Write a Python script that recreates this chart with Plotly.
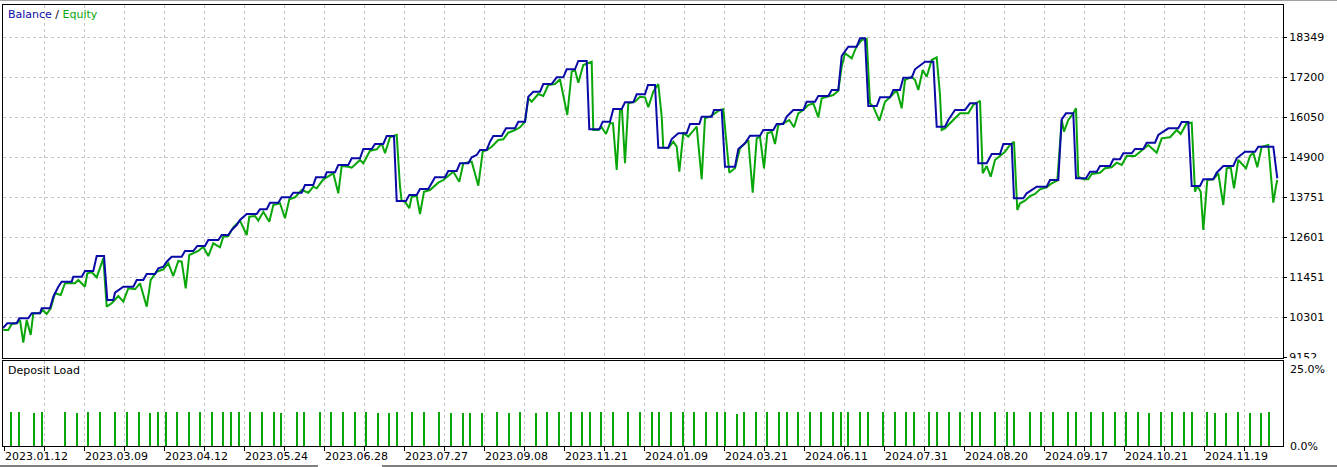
import plotly.graph_objects as go

# ---------------- data ----------------
# balance curve: deal position and balance value
balance_x = [
    3, 7.3, 16.7, 19.3, 28.3, 31.7, 40, 41.7, 50, 53.3,
    58.3, 61.7, 71.7, 73.3, 81.7, 85, 93.3, 96.7, 104, 107.3,
    113.3, 115, 123.3, 133.3, 136.7, 143.3, 146.7, 155, 158.3, 163.3,
    166.7, 171.7, 181.7, 185, 193.3, 197.3, 205, 208.3, 218.3, 221.7,
    228.3, 231.7, 236.7, 240, 246.7, 256.7, 260, 266.7, 270, 278.3,
    281.7, 290, 293.3, 301.7, 305, 313.3, 316, 325, 326.7, 335,
    338.3, 348.3, 351.7, 360, 363.3, 371.7, 375, 383.3, 386.7, 394,
    396.7, 406, 409.3, 416.7, 420, 428.3, 435, 445, 448.3, 456.7,
    460, 468.3, 471.7, 476.7, 480, 486.7, 490, 493.3, 501.7, 506,
    515, 518.3, 525, 528.3, 533.3, 540, 543.3, 551.7, 556.7, 563.3,
    566.7, 575, 578.3, 586.7, 589.3, 599.3, 602.7, 610, 613.3, 621.7,
    625, 633.3, 636.7, 645, 648, 655, 658.3, 668.3, 671.7, 678.3,
    686.7, 690, 699.3, 701.7, 711.7, 714, 721.7, 725, 735, 738.3,
    745, 750, 760, 763.3, 773.3, 776.7, 783.3, 786.7, 793.3, 803.3,
    806.7, 815, 818.3, 828.3, 831.7, 838.3, 841.7, 848.3, 856.7, 860,
    865, 868.3, 876.7, 880, 890, 893.3, 900, 903.3, 911.7, 915,
    925, 933.3, 936.7, 945, 948.3, 955, 965, 970, 976.7, 978.3,
    986.7, 991.7, 1000, 1003.3, 1011.7, 1014, 1023.3, 1026.7, 1036.7, 1046.7,
    1050, 1058.3, 1061.7, 1066, 1073.3, 1076, 1086, 1090, 1096.7, 1100,
    1110, 1113.3, 1120, 1123.3, 1131.7, 1135, 1143.3, 1146.7, 1155, 1158.3,
    1168.3, 1178.3, 1181.7, 1188.3, 1191.7, 1200, 1203.3, 1213.3, 1216.7, 1223.3,
    1233.3, 1236.7, 1245, 1255, 1258.3, 1273.3, 1277.3,
]
balance = [
    10000, 10135, 10135, 10279, 10279, 10422, 10422, 10566, 10566, 10900,
    11187, 11331, 11331, 11474, 11474, 11638, 11638, 12069, 12069, 10805,
    10805, 11014, 11187, 11187, 11379, 11379, 11552, 11552, 11716, 11762,
    11905, 12049, 12049, 12213, 12213, 12357, 12357, 12529, 12529, 12673,
    12673, 12816, 12960, 13104, 13276, 13276, 13411, 13411, 13601, 13601,
    13756, 13756, 13888, 13888, 14110, 14110, 14331, 14331, 14475, 14475,
    14685, 14685, 14877, 14877, 15144, 15144, 15288, 15288, 15518, 15518,
    13650, 13650, 13822, 13822, 13995, 13995, 14331, 14331, 14512, 14512,
    14733, 14733, 14906, 14972, 15116, 15116, 15354, 15518, 15518, 15739,
    15739, 15929, 15929, 16647, 16791, 16791, 17012, 17012, 17205, 17205,
    17435, 17435, 17674, 17674, 15711, 15711, 15929, 15929, 16294, 16294,
    16487, 16487, 16716, 16716, 16984, 16984, 15182, 15182, 15432, 15596,
    15596, 15863, 15863, 16073, 16073, 16265, 16265, 14636, 14636, 15144,
    15308, 15527, 15527, 15690, 15690, 15863, 15863, 16073, 16265, 16265,
    16504, 16504, 16668, 16668, 16840, 16840, 17817, 18084, 18084, 18326,
    18326, 16380, 16380, 16630, 16630, 16840, 16840, 17194, 17194, 17435,
    17653, 17653, 15785, 15785, 15978, 16265, 16265, 16458, 16458, 14733,
    14733, 15001, 15001, 15288, 15288, 13728, 13728, 13871, 14061, 14061,
    14253, 14253, 15998, 16170, 16170, 14302, 14302, 14492, 14492, 14656,
    14656, 14848, 14848, 15021, 15021, 15144, 15144, 15325, 15325, 15547,
    15739, 15739, 15920, 15920, 14081, 14081, 14274, 14274, 14463, 14656,
    14656, 14877, 15067, 15067, 15210, 15210, 14302,
]

# equity curve: deal position and equity value
equity_x = [
    3.3, 8.3, 11.7, 16.7, 20, 23.3, 26.7, 30.7, 33.3, 40,
    42.7, 46.7, 50.7, 55, 60.7, 65, 75, 78.3, 85, 87.3,
    91.7, 96.7, 103.3, 106.7, 111.7, 118.3, 123.3, 128.3, 135, 140,
    146.7, 150.7, 156.7, 163.3, 168.3, 173.3, 178.3, 181.7, 185.7, 189.3,
    198.3, 203.3, 208.3, 213.3, 220, 223.3, 228.3, 233.3, 240, 246.7,
    249.3, 255, 258.3, 263.3, 269.3, 273.3, 280, 285, 289.3, 295,
    301.7, 308.3, 313.3, 316.7, 323.3, 326.7, 333.3, 338.3, 341.7, 348.3,
    351.7, 360, 363.3, 370, 376.7, 381.7, 385, 390, 396.7, 400,
    401.7, 405, 409.3, 411.7, 416.7, 420, 424, 430, 435, 438.3,
    443.3, 448.3, 453.3, 459.3, 463.3, 471.7, 478.3, 482.7, 486.7, 491.7,
    498.3, 503.3, 508.3, 515, 520, 525, 528.3, 531.7, 538.3, 543.3,
    548.3, 555, 560, 567.3, 571.7, 575, 578.3, 583.3, 591.7, 593.3,
    598.3, 601.7, 606, 610, 613, 616.7, 620, 622, 625, 628.3,
    635, 640, 645, 648.3, 653.3, 658.3, 661.7, 663.3, 668.3, 673.3,
    676.7, 679.3, 681.7, 683.3, 688.3, 693.3, 696.7, 701.7, 705, 710,
    715, 720, 723.3, 727.3, 729.3, 735, 740, 745, 748.3, 752.7,
    756.7, 760, 764, 767.3, 771.7, 775, 778.3, 783.3, 789.3, 794,
    798.3, 803.3, 808.3, 813.3, 818.3, 821.7, 828.3, 833.3, 838.3, 841.7,
    845, 851.7, 856.7, 861.7, 866.7, 870, 873.3, 879.3, 885, 890,
    896.7, 901.7, 905, 911.7, 915, 918.3, 922.7, 926.7, 931.7, 936.7,
    940, 941.7, 945, 950, 955, 960, 968.3, 973.3, 980, 982.7,
    986.7, 990.7, 995, 1000, 1005, 1010, 1014, 1017.3, 1020, 1025,
    1030, 1035, 1040, 1046.7, 1051.7, 1057.3, 1061.7, 1064, 1068.3, 1073.3,
    1076, 1078.3, 1083.3, 1088.3, 1091.7, 1100, 1105, 1111.7, 1116.7, 1121.7,
    1126.7, 1135, 1141.7, 1148.3, 1156.7, 1161.7, 1170, 1173.3, 1176.7, 1180.7,
    1186.7, 1191.7, 1195, 1197.3, 1200.7, 1203.3, 1207.3, 1213.3, 1218.3, 1223.3,
    1226.7, 1230.7, 1234, 1238.3, 1241.7, 1246, 1250, 1253.3, 1257.3, 1261.7,
    1268.3, 1271.7, 1273.3, 1276, 1277.3,
]
equity = [
    9942, 9942, 10115, 10135, 10230, 9577, 10230, 9799, 10422, 10422,
    10517, 10402, 10566, 10997, 10948, 11285, 11285, 11379, 11187, 11572,
    11601, 11457, 12003, 10612, 10710, 10920, 10756, 11141, 11112, 11285,
    10612, 11379, 11618, 11687, 11859, 11494, 11925, 11905, 11141, 12098,
    12213, 12336, 12069, 12434, 12319, 12624, 12644, 12894, 13084, 12673,
    13199, 13219, 13084, 13342, 13055, 13535, 13584, 13153, 13699, 13756,
    13966, 13888, 14061, 14015, 14274, 14331, 14446, 13871, 14656, 14636,
    14607, 14828, 14733, 15096, 15136, 15308, 15021, 15481, 15547, 14061,
    13650, 13630, 13440, 13773, 13793, 13276, 13917, 13966, 14081, 14176,
    14253, 14368, 14492, 14205, 14733, 14779, 14090, 15067, 15116, 15210,
    15403, 15423, 15613, 15690, 15768, 15929, 16602, 16504, 16725, 16668,
    16984, 17012, 17148, 16122, 17366, 17415, 17050, 17559, 17653, 15690,
    15690, 15768, 15575, 15883, 15883, 14541, 16265, 16265, 14733, 16458,
    16504, 16647, 16630, 16343, 16791, 17012, 16073, 15182, 15165, 15354,
    15210, 14492, 15067, 15596, 15498, 15690, 15785, 14274, 16027, 16073,
    16170, 16265, 16285, 15067, 14463, 14590, 15165, 15308, 15403, 13888,
    15452, 15498, 14590, 15596, 15642, 15288, 15834, 15883, 15978, 15768,
    16170, 16265, 16409, 16458, 16055, 16602, 16668, 16696, 16820, 17510,
    17895, 17751, 18105, 18277, 18306, 16458, 16360, 15958, 16504, 16630,
    16840, 16314, 17127, 17222, 17127, 16840, 17415, 17222, 17702, 17780,
    16696, 15690, 15739, 15883, 16027, 16170, 16170, 16409, 16532, 14446,
    14656, 14348, 14828, 14943, 15067, 15259, 15354, 13391, 13583, 13658,
    13794, 13851, 13986, 14044, 14159, 14233, 15978, 15642, 15978, 16170,
    16314, 14348, 14274, 14274, 14426, 14463, 14590, 14618, 14751, 14685,
    14943, 14943, 15096, 15259, 15038, 15452, 15481, 15596, 15690, 15575,
    15883, 15900, 13917, 14081, 13917, 12816, 14253, 14274, 14446, 13535,
    14590, 14618, 14015, 14828, 14733, 14590, 14943, 15038, 14618, 15210,
    15259, 14015, 13601, 14081, 14253,
]

# deposit load bars (deal position, load %)
load_x = [
    11, 19, 34, 42, 65, 77, 88, 100, 115, 127,
    139, 150, 158, 166, 177, 189, 200, 212, 223, 231,
    239, 250, 262, 274, 281, 297, 304, 320, 331, 343,
    355, 366, 378, 389, 397, 412, 424, 439, 451, 463,
    470, 482, 497, 509, 520, 536, 547, 559, 571, 582,
    590, 601, 613, 628, 640, 652, 659, 671, 683, 694,
    706, 717, 725, 737, 744, 756, 767, 779, 787, 798,
    810, 821, 833, 841, 848, 860, 868, 883, 895, 906,
    914, 929, 937, 949, 960, 972, 980, 995, 1007, 1014,
    1030, 1041, 1053, 1068, 1076, 1091, 1103, 1115, 1126, 1138,
    1149, 1161, 1172, 1184, 1192, 1207, 1215, 1226, 1238, 1250,
    1261, 1269,
]
load_pct = [
    10, 10, 9.7, 10, 10, 9.7, 10, 10, 10, 10,
    10, 9.7, 10, 10, 10, 10, 10, 10, 10, 10,
    10, 10, 10, 10, 9.7, 10, 10, 10, 10, 10,
    10, 10, 9.7, 9.7, 10, 10, 10, 10, 9.7, 9.7,
    9.7, 9.7, 10, 9.7, 10, 9.7, 10, 10, 10, 10,
    10, 10, 10, 10, 10, 10, 10, 10, 10, 10,
    10, 10, 10, 9.4, 10, 10, 10, 10, 10, 10,
    10, 10, 10, 10, 10, 10, 10, 10, 10, 10,
    10, 10, 10, 10, 10, 10, 10, 10, 10, 10,
    10, 10, 10, 10, 10, 10, 10, 10, 10, 10,
    9.7, 10, 10, 10, 10, 10, 9.7, 9.7, 10, 9.7,
    9.7, 10,
]

# axis labels
date_labels = [
    "2023.01.12", "2023.03.09", "2023.04.12", "2023.05.24", "2023.06.28",
    "2023.07.27", "2023.09.08", "2023.11.21", "2024.01.09", "2024.03.21",
    "2024.06.11", "2024.07.31", "2024.08.20", "2024.09.17", "2024.10.21",
    "2024.11.19",
]
value_ticks = [9152, 10301, 11451, 12601, 13751, 14900, 16050, 17200, 18349]
load_ticks = ["25.0%", "0.0%"]

# ---------------- style ----------------
BLUE = "#0a0aa6"
GREEN = "#09a609"
GRID = "#c6c6c6"
FONT = "DejaVu Sans"

W, H = 1337, 467
L, R, T, B = 3, 54, 5, 21
PW, PH = W - L - R, H - T - B          # 1280 x 441
X0, X1 = 3, 1283                       # x range of the plot
MAIN_BOTTOM_PX = 357.5                 # pixel row of the main panel bottom
LOAD_TOP_PX = 361


def py(p):  # pixel row -> paper y
    return (H - B - p) / PH


def px(p):  # pixel column -> paper x
    return (p - L) / PW


grid_x = [4 + 40 * k for k in range(32)]
grid_text = [date_labels[k // 2] if k % 2 == 0 else "" for k in range(32)]

fig = go.Figure()
fig.add_trace(go.Scatter(x=equity_x, y=equity, mode="lines",
                         line=dict(color=GREEN, width=2), xaxis="x", yaxis="y",
                         name="Equity", hoverinfo="skip"))
fig.add_trace(go.Scatter(x=balance_x, y=balance, mode="lines",
                         line=dict(color=BLUE, width=2), xaxis="x", yaxis="y",
                         name="Balance", hoverinfo="skip"))
fig.add_trace(go.Bar(x=load_x, y=load_pct, width=2, marker=dict(color=GREEN, line=dict(width=0)),
                     xaxis="x2", yaxis="y2", name="Deposit Load", hoverinfo="skip"))

axis_common = dict(showline=True, mirror=True, linecolor="black", linewidth=1, zeroline=False)

top_val = value_ticks[0] + (MAIN_BOTTOM_PX - T) * (value_ticks[-1] - value_ticks[0]) / (MAIN_BOTTOM_PX - 37.5)

fig.update_layout(
    width=W, height=H,
    margin=dict(l=L, r=R, t=T, b=B, pad=0),
    paper_bgcolor="white", plot_bgcolor="white",
    showlegend=False,
    bargap=0,
    font=dict(family=FONT, size=11, color="black"),
    xaxis=dict(domain=[0, 1], range=[X0, X1], anchor="y",
               tickvals=grid_x, showticklabels=False, ticks="",
               showgrid=True, gridcolor=GRID, griddash="3px,3px", gridwidth=1,
               **axis_common),
    xaxis2=dict(domain=[0, 1], range=[X0, X1], anchor="y2", matches="x",
                tickvals=grid_x, ticktext=grid_text, ticks="outside", ticklen=4,
                tickcolor="black", ticklabelposition="outside right",
                tickfont=dict(family=FONT, size=11, color="black"),
                showgrid=True, gridcolor=GRID, griddash="3px,3px", gridwidth=1,
                **axis_common),
    yaxis=dict(domain=[py(MAIN_BOTTOM_PX), 1], range=[value_ticks[0], top_val], anchor="x",
               side="right", tickvals=value_ticks, ticktext=[str(v) for v in value_ticks],
               ticks="outside", ticklen=3, tickcolor="black",
               tickfont=dict(family=FONT, size=11, color="black"),
               showgrid=True, gridcolor=GRID, griddash="3px,3px", gridwidth=1,
               **axis_common),
    yaxis2=dict(domain=[0, py(LOAD_TOP_PX)], range=[0, 25], anchor="x2", side="right",
                showticklabels=False, ticks="", showgrid=False, **axis_common),
)

fig.add_annotation(xref="paper", yref="paper", x=px(6), y=py(15), xanchor="left", yanchor="middle",
                   showarrow=False,
                   text=f'<span style="color:{BLUE}">Balance</span> / <span style="color:{GREEN}">Equity</span>',
                   font=dict(family=FONT, size=11, color="black"))
fig.add_annotation(xref="paper", yref="paper", x=px(6), y=py(370), xanchor="left", yanchor="middle",
                   showarrow=False, text="Deposit Load",
                   font=dict(family=FONT, size=11, color="black"))
fig.add_annotation(xref="paper", yref="paper", x=px(1288), y=py(369), xanchor="left", yanchor="middle",
                   showarrow=False, text=load_ticks[0], font=dict(family=FONT, size=11, color="black"))
fig.add_annotation(xref="paper", yref="paper", x=px(1288), y=py(447), xanchor="left", yanchor="middle",
                   showarrow=False, text=load_ticks[1], font=dict(family=FONT, size=11, color="black"))

# clip the lowest value label like the reference (panel below covers it)
fig.add_shape(type="rect", xref="paper", yref="paper", x0=px(1284), x1=px(1337),
              y0=py(363.5), y1=py(358.5), fillcolor="white", line=dict(width=0), layer="above")
# window decorations: top grey rule and bottom rule
fig.add_shape(type="line", xref="paper", yref="paper", x0=px(0), x1=px(1337), y0=py(0.5), y1=py(0.5),
              line=dict(color="#a0a0a0", width=1))
fig.add_shape(type="line", xref="paper", yref="paper", x0=px(0), x1=px(318), y0=py(466), y1=py(466),
              line=dict(color="black", width=1))
fig.add_shape(type="line", xref="paper", yref="paper", x0=px(382), x1=px(1337), y0=py(466), y1=py(466),
              line=dict(color="black", width=1))

fig.write_html("out.html", config={"displayModeBar": False},
               post_script="document.body.style.margin='0';document.body.style.overflow='hidden';")
